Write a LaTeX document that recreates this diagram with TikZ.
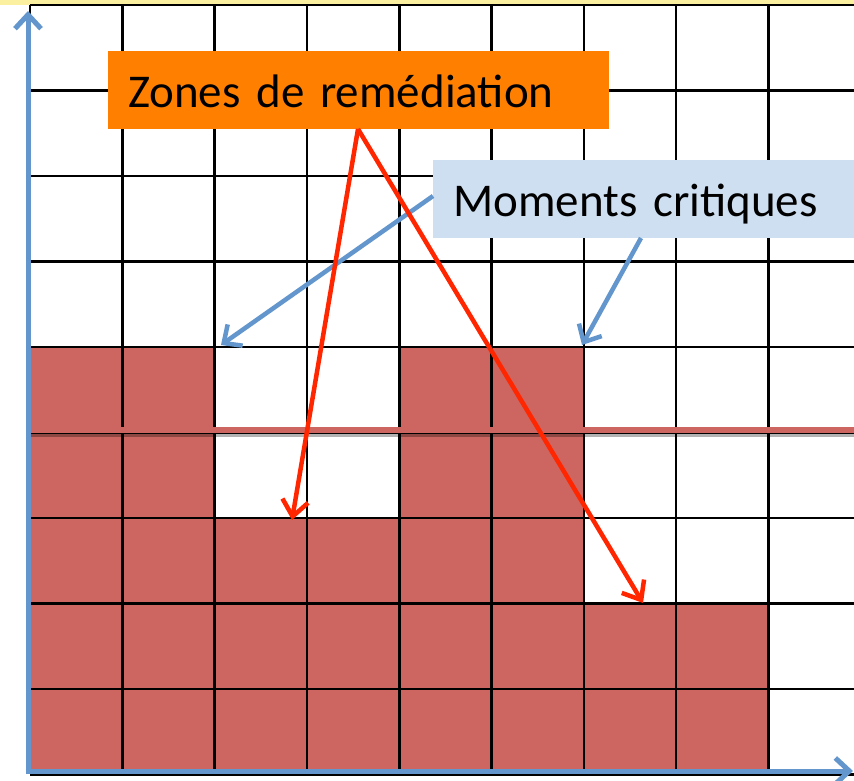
\documentclass[tikz,border=0pt]{standalone}
\usepackage{fontspec}
\setmainfont{Carlito}
\usetikzlibrary{arrows.meta}
\definecolor{bandyellow}{RGB}{250,240,160}
\definecolor{cellred}{RGB}{205,102,96}
\definecolor{axisblue}{RGB}{98,150,204}
\definecolor{boxorange}{RGB}{255,127,0}
\definecolor{boxblue}{RGB}{206,223,241}
\definecolor{arrowred}{RGB}{255,38,0}
\tikzset{
  gridline/.style={black, line width=2.6pt},
  axisline/.style={axisblue, line width=5pt, -{Straight Barb[length=14pt,width=26pt,line width=5pt]}},
  bluearrow/.style={axisblue, line width=4.5pt, -{Straight Barb[length=14pt,width=26pt,line width=4.5pt]}},
  redarrow/.style={arrowred, line width=4.5pt, -{Straight Barb[length=16pt,width=26pt,line width=4.5pt]}},
  labelbox/.style={anchor=north west, inner ysep=0pt, inner xsep=20pt, text height=56pt, text depth=22pt, align=left, font=\fontsize{47}{54}\selectfont, text=black},
}
\begin{document}
\begin{tikzpicture}[x=1pt,y=-1pt]
\useasboundingbox (0,0) rectangle (854,781);
\clip (0,0) rectangle (854,781);
\fill[white] (0,0) rectangle (854,781);
\fill[bandyellow] (0,0) rectangle (854,5);
% red cells
\fill[cellred] (30,347) rectangle (214.6,774);
\fill[cellred] (214.6,518) rectangle (399.2,774);
\fill[cellred] (399.2,347) rectangle (583.8,774);
\fill[cellred] (583.8,603.5) rectangle (768.4,774);
% grid
\foreach \i in {0,...,9} {
  \draw[gridline] ({30+92.3*\i},5) -- ({30+92.3*\i},774);
  \draw[gridline] (30,{5+85.5*\i}) -- (860,{5+85.5*\i});
}
% threshold line
\fill[black, opacity=0.3] (30,433) rectangle (854,437);
\fill[cellred] (28,426.5) rectangle (854,433);
% axes
\coordinate (ytip) at (28,11);
\coordinate (xtip) at (853,771);
\draw[axisline] (28,773.5) -- (ytip);
\draw[axisline] (25.5,771) -- (xtip);
% boxes
\node[labelbox, fill=boxorange, text width=461pt] (zones) at (108,51) {Zones de remédiation};
\node[labelbox, fill=boxblue, text width=420pt] (moments) at (433,160) {Moments critiques};
% arrow targets
\coordinate (mc1) at (221,345);
\coordinate (mc2) at (582,345);
\coordinate (zr1) at (292,520);
\coordinate (zr2) at (643,603);
\coordinate (zstart) at (358,129);
\draw[bluearrow] (433,196) -- (mc1);
\draw[bluearrow] (641,238) -- (mc2);
\draw[redarrow] (zstart) -- (zr1);
\draw[redarrow] (zstart) -- (zr2);
\end{tikzpicture}
\end{document}
